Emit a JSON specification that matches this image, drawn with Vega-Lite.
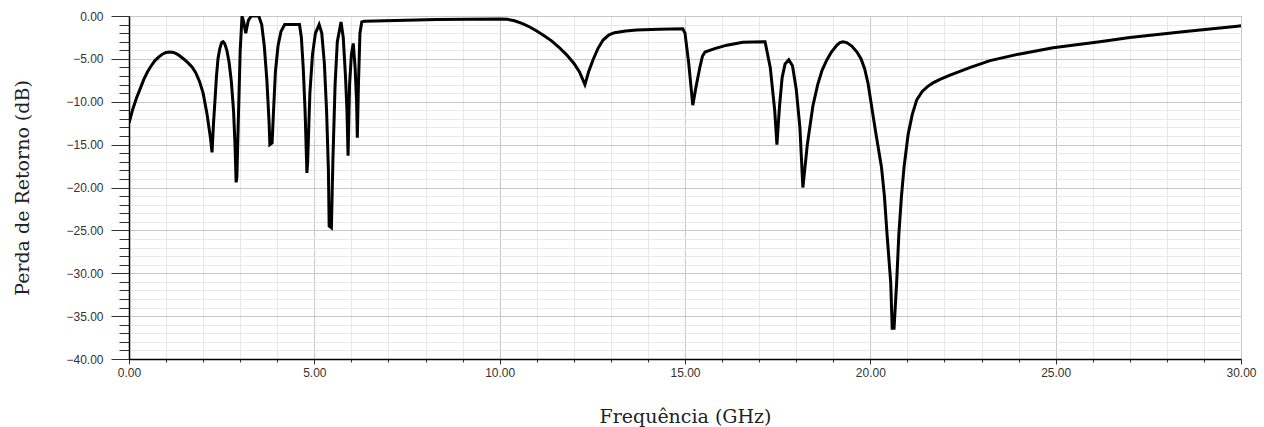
{
  "$schema": "https://vega.github.io/schema/vega-lite/v6.json",
  "width": 1112,
  "height": 343,
  "autosize": {"type": "none"},
  "padding": {"left": 129, "top": 16, "right": 23, "bottom": 68},
  "background": "white",
  "config": {"view": {"stroke": "#666666", "strokeWidth": 1}},
  "data": {"values": [
    {"f": 0, "db": -12.5}, {"f": 0.1, "db": -10.9}, {"f": 0.2, "db": -9.6}, {"f": 0.3, "db": -8.5}, {"f": 0.4, "db": -7.4},
    {"f": 0.5, "db": -6.5}, {"f": 0.6, "db": -5.8}, {"f": 0.7, "db": -5.2}, {"f": 0.8, "db": -4.8}, {"f": 0.9, "db": -4.45},
    {"f": 1.0, "db": -4.25}, {"f": 1.1, "db": -4.2}, {"f": 1.2, "db": -4.25}, {"f": 1.3, "db": -4.45}, {"f": 1.4, "db": -4.75},
    {"f": 1.5, "db": -5.1}, {"f": 1.6, "db": -5.5}, {"f": 1.7, "db": -5.95}, {"f": 1.8, "db": -6.6}, {"f": 1.9, "db": -7.6},
    {"f": 2.0, "db": -9.0}, {"f": 2.1, "db": -11.3}, {"f": 2.2, "db": -14.3}, {"f": 2.24, "db": -15.9},
    {"f": 2.28, "db": -12.5}, {"f": 2.32, "db": -9.8}, {"f": 2.36, "db": -7.0}, {"f": 2.4, "db": -5.0}, {"f": 2.45, "db": -3.8},
    {"f": 2.5, "db": -3.1}, {"f": 2.54, "db": -3.0}, {"f": 2.58, "db": -3.2}, {"f": 2.64, "db": -4.0}, {"f": 2.7, "db": -5.4},
    {"f": 2.76, "db": -7.6}, {"f": 2.82, "db": -11.0}, {"f": 2.86, "db": -15.0}, {"f": 2.89, "db": -19.4}, {"f": 2.91, "db": -18.8},
    {"f": 2.95, "db": -12.0}, {"f": 3.0, "db": -4.0}, {"f": 3.05, "db": 0}, {"f": 3.1, "db": -0.8}, {"f": 3.15, "db": -2.0},
    {"f": 3.22, "db": -0.5}, {"f": 3.3, "db": 0}, {"f": 3.5, "db": 0}, {"f": 3.58, "db": -1.0}, {"f": 3.65, "db": -3.5},
    {"f": 3.72, "db": -7.5}, {"f": 3.78, "db": -12.5}, {"f": 3.8, "db": -15.0}, {"f": 3.86, "db": -14.8}, {"f": 3.9, "db": -11.0},
    {"f": 3.95, "db": -6.5}, {"f": 4.02, "db": -3.5}, {"f": 4.1, "db": -1.8}, {"f": 4.2, "db": -1.0}, {"f": 4.6, "db": -1.0},
    {"f": 4.65, "db": -2.5}, {"f": 4.7, "db": -6.0}, {"f": 4.75, "db": -11.0}, {"f": 4.8, "db": -18.3}, {"f": 4.82, "db": -17.0},
    {"f": 4.88, "db": -9.0}, {"f": 4.95, "db": -4.5}, {"f": 5.03, "db": -2.0}, {"f": 5.13, "db": -1.0}, {"f": 5.2, "db": -2.0},
    {"f": 5.27, "db": -5.5}, {"f": 5.33, "db": -11.0}, {"f": 5.38, "db": -18.0}, {"f": 5.4, "db": -24.5}, {"f": 5.46, "db": -24.7},
    {"f": 5.5, "db": -17.0}, {"f": 5.56, "db": -8.0}, {"f": 5.62, "db": -3.0}, {"f": 5.72, "db": -0.7}, {"f": 5.78, "db": -2.5},
    {"f": 5.84, "db": -7.0}, {"f": 5.88, "db": -11.0}, {"f": 5.91, "db": -16.3}, {"f": 5.95, "db": -8.0}, {"f": 6.0, "db": -4.5},
    {"f": 6.05, "db": -3.2}, {"f": 6.1, "db": -6.0}, {"f": 6.14, "db": -10.0}, {"f": 6.16, "db": -14.2}, {"f": 6.19, "db": -8.0},
    {"f": 6.23, "db": -2.0}, {"f": 6.28, "db": -0.7}, {"f": 6.35, "db": -0.6}, {"f": 8.3, "db": -0.4}, {"f": 10.0, "db": -0.35},
    {"f": 10.2, "db": -0.38}, {"f": 10.4, "db": -0.55}, {"f": 10.6, "db": -0.85}, {"f": 10.8, "db": -1.25}, {"f": 11.0, "db": -1.75},
    {"f": 11.2, "db": -2.3}, {"f": 11.4, "db": -2.9}, {"f": 11.6, "db": -3.65}, {"f": 11.8, "db": -4.5}, {"f": 12.0, "db": -5.5},
    {"f": 12.15, "db": -6.5}, {"f": 12.3, "db": -8.0}, {"f": 12.4, "db": -6.5}, {"f": 12.52, "db": -5.1}, {"f": 12.65, "db": -3.8},
    {"f": 12.79, "db": -2.8}, {"f": 12.95, "db": -2.2}, {"f": 13.1, "db": -1.95}, {"f": 13.4, "db": -1.75}, {"f": 13.7, "db": -1.62},
    {"f": 14.3, "db": -1.55}, {"f": 14.94, "db": -1.5}, {"f": 15.0, "db": -2.0}, {"f": 15.1, "db": -5.5},
    {"f": 15.21, "db": -10.4}, {"f": 15.3, "db": -8.2}, {"f": 15.4, "db": -6.0}, {"f": 15.47, "db": -4.7}, {"f": 15.54, "db": -4.2},
    {"f": 15.8, "db": -3.8}, {"f": 16.13, "db": -3.4}, {"f": 16.56, "db": -3.05},
    {"f": 17.16, "db": -3.0}, {"f": 17.3, "db": -6.0}, {"f": 17.42, "db": -11.0}, {"f": 17.48, "db": -15.0}, {"f": 17.55, "db": -10.5},
    {"f": 17.62, "db": -7.2}, {"f": 17.7, "db": -5.6},
    {"f": 17.8, "db": -5.1}, {"f": 17.9, "db": -5.8}, {"f": 18.0, "db": -8.5}, {"f": 18.1, "db": -13.0}, {"f": 18.18, "db": -20.0},
    {"f": 18.3, "db": -15.0}, {"f": 18.45, "db": -10.5}, {"f": 18.58, "db": -8.0}, {"f": 18.7, "db": -6.3}, {"f": 18.83, "db": -5.1},
    {"f": 18.95, "db": -4.2}, {"f": 19.1, "db": -3.4}, {"f": 19.18, "db": -3.1}, {"f": 19.26, "db": -3.0}, {"f": 19.36, "db": -3.1},
    {"f": 19.5, "db": -3.5}, {"f": 19.64, "db": -4.2}, {"f": 19.75, "db": -5.0}, {"f": 19.85, "db": -6.2}, {"f": 19.94, "db": -7.9},
    {"f": 19.99, "db": -9.3}, {"f": 20.07, "db": -11.5}, {"f": 20.15, "db": -13.7}, {"f": 20.3, "db": -17.6}, {"f": 20.38, "db": -21.0},
    {"f": 20.45, "db": -25.4}, {"f": 20.55, "db": -31.1}, {"f": 20.59, "db": -36.4}, {"f": 20.64, "db": -36.4}, {"f": 20.71, "db": -31.1},
    {"f": 20.77, "db": -25.4}, {"f": 20.84, "db": -21.0}, {"f": 20.91, "db": -17.6}, {"f": 21.02, "db": -13.8}, {"f": 21.13, "db": -11.5},
    {"f": 21.25, "db": -9.8}, {"f": 21.4, "db": -8.8}, {"f": 21.55, "db": -8.2}, {"f": 21.69, "db": -7.8}, {"f": 21.88, "db": -7.4},
    {"f": 22.15, "db": -6.9}, {"f": 22.7, "db": -6.0}, {"f": 23.23, "db": -5.2}, {"f": 24.0, "db": -4.45},
    {"f": 24.93, "db": -3.7}, {"f": 26.19, "db": -3.0}, {"f": 27.0, "db": -2.5}, {"f": 28.5, "db": -1.8}, {"f": 29.9, "db": -1.2}, {"f": 30.0, "db": -1.15}
  ]},
  "mark": {"type": "line", "color": "black", "strokeWidth": 3, "interpolate": "linear", "clip": true},
  "encoding": {
    "x": {
      "field": "f", "type": "quantitative",
      "scale": {"domain": [0, 30], "nice": false, "zero": false},
      "axis": {
        "title": "Frequência (GHz)",
        "values": [0,1,2,3,4,5,6,7,8,9,10,11,12,13,14,15,16,17,18,19,20,21,22,23,24,25,26,27,28,29,30],
        "labelExpr": "datum.value % 5 === 0 ? format(datum.value, '.2f') : ''",
        "labelOverlap": false,
        "labelFlush": false,
        "labelFont": "Liberation Sans",
        "labelFontSize": 12,
        "labelColor": "#333333",
        "labelPadding": 3,
        "domainColor": "black",
        "domainWidth": 1.5,
        "tickColor": "#333333",
        "tickSize": {"condition": {"test": "datum.value % 5 === 0", "value": 5}, "value": 3},
        "gridColor": {"condition": {"test": "datum.value % 5 === 0", "value": "#c8c8c8"}, "value": "#e8e8e8"},
        "gridWidth": 1,
        "titleFont": "DejaVu Serif",
        "titleFontSize": 19,
        "titleFontWeight": "normal",
        "titleColor": "#222222",
        "titlePadding": 29
      }
    },
    "y": {
      "field": "db", "type": "quantitative",
      "scale": {"domain": [-40, 0], "nice": false, "zero": false},
      "axis": {
        "title": "Perda de Retorno (dB)",
        "values": [0,-1,-2,-3,-4,-5,-6,-7,-8,-9,-10,-11,-12,-13,-14,-15,-16,-17,-18,-19,-20,-21,-22,-23,-24,-25,-26,-27,-28,-29,-30,-31,-32,-33,-34,-35,-36,-37,-38,-39,-40],
        "labelExpr": "datum.value % 5 === 0 ? format(datum.value, '.2f') : ''",
        "labelOverlap": false,
        "labelFlush": false,
        "labelFont": "Liberation Sans",
        "labelFontSize": 12,
        "labelColor": "#333333",
        "labelPadding": 8,
        "domainColor": "black",
        "domainWidth": 1.5,
        "tickColor": "#333333",
        "tickSize": {"condition": {"test": "datum.value % 5 === 0", "value": 18}, "value": 10},
        "gridColor": {"condition": {"test": "datum.value % 5 === 0", "value": "#c8c8c8"}, "value": "#e8e8e8"},
        "gridWidth": 1,
        "titleFont": "DejaVu Serif",
        "titleFontSize": 19,
        "titleFontWeight": "normal",
        "titleColor": "#222222",
        "titlePadding": 33
      }
    }
  }
}
